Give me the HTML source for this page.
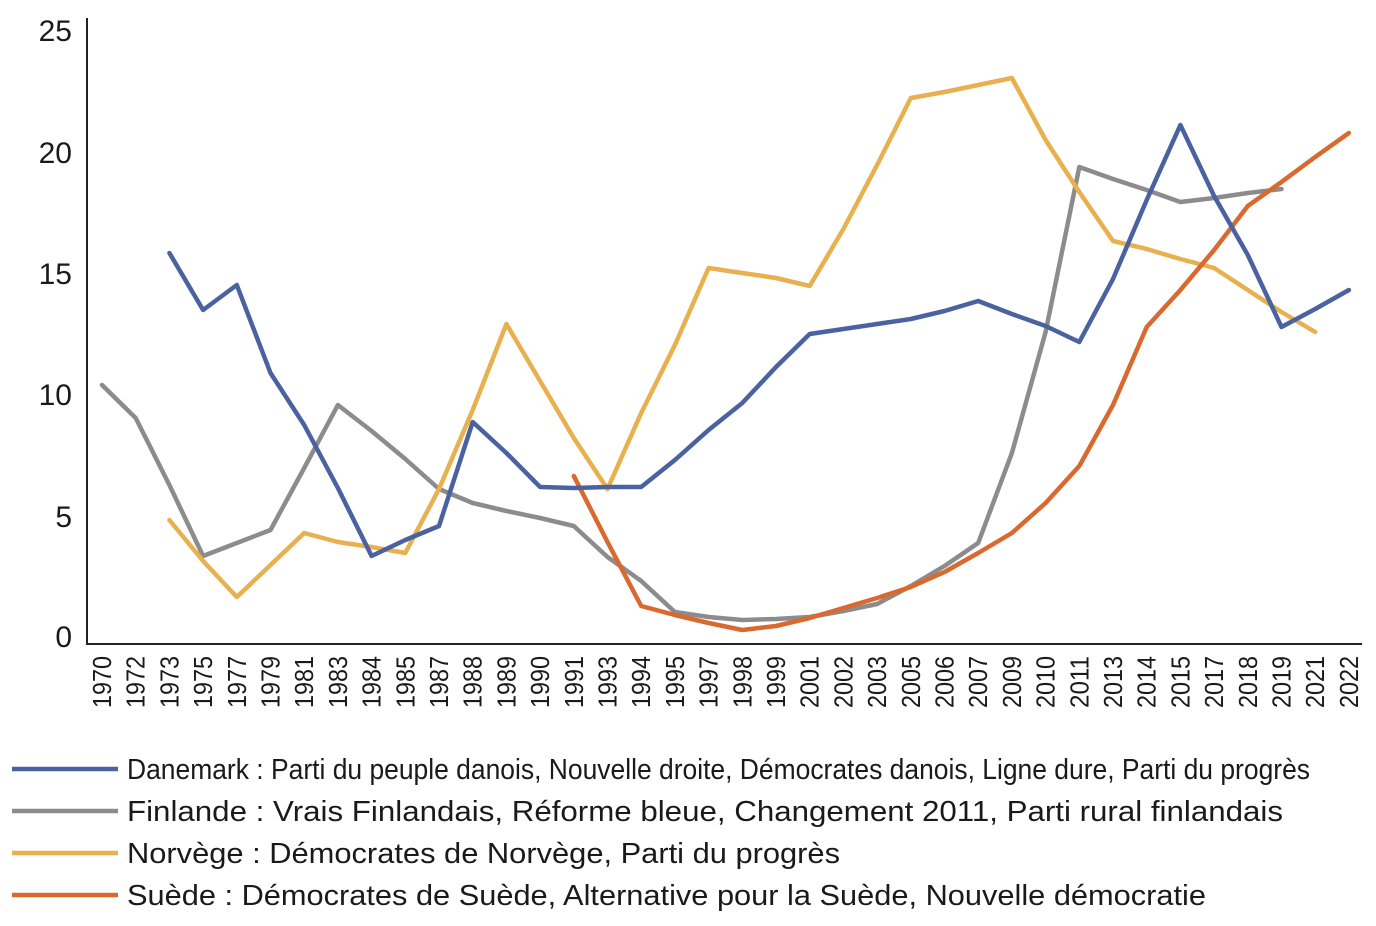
<!DOCTYPE html>
<html><head><meta charset="utf-8"><style>body{margin:0;background:#fff}svg{display:block}</style></head>
<body>
<svg width="1376" height="926" xmlns="http://www.w3.org/2000/svg" font-family="Liberation Sans, sans-serif" fill="#1a1a1a">
<line x1="87" y1="18" x2="87" y2="645" stroke="#222" stroke-width="2"/>
<line x1="86" y1="644" x2="1362" y2="644" stroke="#222" stroke-width="2"/>
<g font-size="30" text-anchor="end">
<text x="72" y="41">25</text><text x="72" y="163">20</text><text x="72" y="284">15</text>
<text x="72" y="405">10</text><text x="72" y="527">5</text><text x="72" y="647">0</text>
</g>
<g id="xl" font-size="26"></g>
<g fill="none" stroke-width="4.5" stroke-linejoin="round" stroke-linecap="round">
<polyline id="fi" stroke="#8c8c8c"/>
<polyline id="no" stroke="#e8b04f"/>
<polyline id="se" stroke="#d9692e"/>
<polyline id="dk" stroke="#4a63a0"/>
</g>
<g stroke-width="4.5">
<line x1="12" y1="769" x2="118" y2="769" stroke="#4a63a0"/>
<line x1="12" y1="811" x2="118" y2="811" stroke="#8c8c8c"/>
<line x1="12" y1="853" x2="118" y2="853" stroke="#e8b04f"/>
<line x1="12" y1="895" x2="118" y2="895" stroke="#d9692e"/>
</g>
<g font-size="29">
<text x="127" y="779" textLength="1183" lengthAdjust="spacingAndGlyphs">Danemark : Parti du peuple danois, Nouvelle droite, Démocrates danois, Ligne dure, Parti du progrès</text>
<text x="127" y="821" textLength="1156" lengthAdjust="spacingAndGlyphs">Finlande : Vrais Finlandais, Réforme bleue, Changement 2011, Parti rural finlandais</text>
<text x="127" y="863" textLength="713" lengthAdjust="spacingAndGlyphs">Norvège : Démocrates de Norvège, Parti du progrès</text>
<text x="127" y="905" textLength="1079" lengthAdjust="spacingAndGlyphs">Suède : Démocrates de Suède, Alternative pour la Suède, Nouvelle démocratie</text>
</g>
</svg>
<script>
const yrs=[1970,1972,1973,1975,1977,1979,1981,1983,1984,1985,1987,1988,1989,1990,1991,1993,1994,1995,1997,1998,1999,2001,2002,2003,2005,2006,2007,2009,2010,2011,2013,2014,2015,2017,2018,2019,2021,2022];
const X=i=>102+33.7*i;
let s='';yrs.forEach((y,i)=>{s+=`<text transform="translate(${X(i)+9},708) rotate(-90)" textLength="52" lengthAdjust="spacingAndGlyphs">${y}</text>`});
document.getElementById('xl').innerHTML=s;
function set(id,start,arr){document.getElementById(id).setAttribute('points',arr.map((v,k)=>X(start+k)+','+v).join(' '))}
set('dk',2,[253,310,285,373,425,488,556,540,526,422,453,487,488,487,487,460,430,403,367,334,329,324,319,311,301,314,326,342,279,200,125,196,255,327,309,290]);
set('fi',0,[385,418,485,556,543,530,468,405,431,459,489,503,511,518,526,557,581,612,617,620,619,617,611,604,586,566,543,453,332,167,179,190,202,198,193,189]);
set('no',2,[520,561,597,565,533,542,547,553,489,410,324,381,438,489,413,345,268,273,278,286,229,165,98,92,85,78,140,192,241,249,259,268,290,312,332]);
set('se',14,[476,542,606,615,623,630,626,618,608,598,587,572,553,533,503,466,405,327,290,250,206,182,157,133]);
</script>
</body></html>
